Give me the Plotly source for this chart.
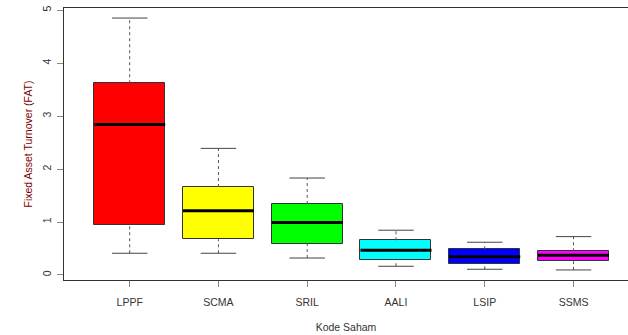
import plotly.graph_objects as go

categories = ["LPPF", "SCMA", "SRIL", "AALI", "LSIP", "SSMS"]
lower = [0.41, 0.41, 0.32, 0.164, 0.108, 0.095]
q1 = [0.945, 0.675, 0.59, 0.278, 0.202, 0.259]
median = [2.84, 1.21, 0.99, 0.467, 0.346, 0.372]
q3 = [3.62, 1.66, 1.34, 0.655, 0.486, 0.448]
upper = [4.85, 2.39, 1.83, 0.845, 0.618, 0.724]
colors = ["#FF0000", "#FFFF00", "#00FF00", "#00FFFF", "#0000FF", "#FF00FF"]
y_ticks = [0, 1, 2, 3, 4, 5]

pos = list(range(1, len(categories) + 1))
box_w = 0.8
cap_w = 0.4

fig = go.Figure()

# whiskers (dashed)
wx, wy = [], []
for p, lo, a, b, hi in zip(pos, lower, q1, q3, upper):
    wx += [p, p, None, p, p, None]
    wy += [lo, a, None, b, hi, None]
fig.add_trace(go.Scatter(x=wx, y=wy, mode="lines",
                         line=dict(color="#555555", width=1, dash="3px,3px"),
                         hoverinfo="skip", showlegend=False))
# caps
cx, cy = [], []
for p, lo, hi in zip(pos, lower, upper):
    cx += [p - cap_w / 2, p + cap_w / 2, None, p - cap_w / 2, p + cap_w / 2, None]
    cy += [lo, lo, None, hi, hi, None]
fig.add_trace(go.Scatter(x=cx, y=cy, mode="lines",
                         line=dict(color="#444444", width=1),
                         hoverinfo="skip", showlegend=False))
# boxes
fig.add_trace(go.Bar(x=pos, y=[b - a for a, b in zip(q1, q3)], base=q1,
                     width=box_w, marker=dict(color=colors,
                                              line=dict(color="#333333", width=1)),
                     showlegend=False))
# medians
mx, my = [], []
for p, m in zip(pos, median):
    mx += [p - box_w / 2, p + box_w / 2, None]
    my += [m, m, None]
fig.add_trace(go.Scatter(x=mx, y=my, mode="lines",
                         line=dict(color="#000000", width=3),
                         hoverinfo="skip", showlegend=False))

font = dict(family="Liberation Sans, Arial, sans-serif", size=10.5, color="#333333")

fig.update_layout(
    width=628, height=335,
    margin=dict(l=64, r=0, t=8, b=55),
    paper_bgcolor="white", plot_bgcolor="white",
    font=font,
    xaxis=dict(range=[0.26, 6.614], tickvals=pos, ticktext=categories,
               showgrid=False, zeroline=False, showline=True, linecolor="#333333",
               linewidth=1, mirror=True, ticks="outside", ticklen=6,
               tickcolor="#888888", tickfont=font, ticklabelstandoff=6,
               title=dict(text="Kode Saham", font=font, standoff=17)),
    yaxis=dict(range=[-0.095, 5.04], tickvals=y_ticks,
               showgrid=False, zeroline=False, showline=True, linecolor="#333333",
               linewidth=1, ticks="outside", ticklen=6, tickcolor="#888888",
               tickangle=-90, tickfont=font, ticklabelstandoff=2,
               title=dict(text="Fixed Asset Turnover (FAT)",
                          font=dict(family=font["family"], size=10.5, color="#7a0000"),
                          standoff=6)),
    bargap=0,
)

fig.write_html("out.html")
